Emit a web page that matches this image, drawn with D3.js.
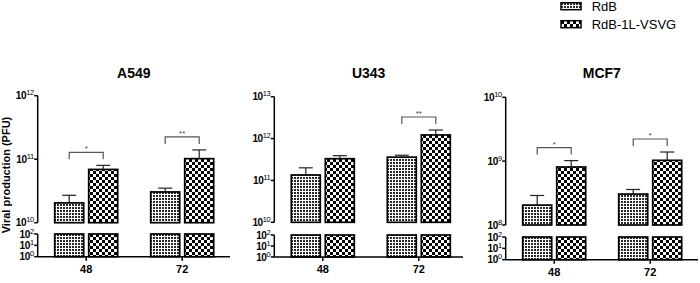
<!DOCTYPE html>
<html>
<head>
<meta charset="utf-8">
<script src="https://cdn.jsdelivr.net/npm/d3@7"></script>
<style>
  body { margin: 0; background: #fff; }
  svg { display: block; font-family: Arial, "Liberation Sans", sans-serif; }
</style>
</head>
<body>
<svg id="chart" width="700" height="283"></svg>
<script>
// data
var panels = ["A549", "U343", "MCF7"];
var categories = ["48", "72"];
var series = ["RdB", "RdB-1L-VSVG"];
var rdbMean  = [[2.05e10, 3.05e10], [1.35e11, 3.6e11], [2.05e8, 3.05e8]];
var rdbErr   = [[0.65e10, 0.45e10], [0.65e11, 0.4e11], [0.85e8, 0.55e8]];
var vsvgMean = [[6.9e10, 1.02e11], [3.3e11, 1.22e12], [8.1e8, 1.03e9]];
var vsvgErr  = [[1.1e10, 0.38e11], [0.6e11, 0.38e12], [0.21e9, 0.36e9]];
var upperExp = [[10, 12], [10, 13], [8, 10]];
var lowerExp = [0, 1, 2];
var signif = [["*", "**"], ["", "**"], ["*", "*"]];

// panel frames
var frames = [
  {left: 37.7, right: 230, top: 95.7, upBottom: 222.7, lowTop: 234, base: 256.7},
  {left: 274.3, right: 463, top: 96.7, upBottom: 222.3, lowTop: 235, base: 257},
  {left: 505.7, right: 698, top: 97.3, upBottom: 225, lowTop: 237, base: 259.7}
];

var svg = d3.select("#chart");
var defs = svg.append("defs");

// fine dotted texture for RdB
var p1 = defs.append("pattern").attr("id", "pRdb")
    .attr("patternUnits", "userSpaceOnUse").attr("width", 3).attr("height", 3);
p1.append("rect").attr("width", 3).attr("height", 3).attr("fill", "#fff");
p1.append("rect").attr("width", 2).attr("height", 2).attr("fill", "#2a2a2a").attr("shape-rendering", "crispEdges");

// coarse checker for RdB-1L-VSVG
var p2 = defs.append("pattern").attr("id", "pVsvg")
    .attr("patternUnits", "userSpaceOnUse").attr("width", 6).attr("height", 6);
p2.append("rect").attr("width", 6).attr("height", 6).attr("fill", "#fff");
p2.append("rect").attr("width", 3).attr("height", 3).attr("fill", "#000").attr("shape-rendering", "crispEdges");
p2.append("rect").attr("x", 3).attr("y", 3).attr("width", 3).attr("height", 3).attr("fill", "#000").attr("shape-rendering", "crispEdges");

var fills = ["url(#pRdb)", "url(#pVsvg)"];

function tickLabel(sel, exp) {
  sel.append("tspan").text("10");
  sel.append("tspan").attr("dy", -4).attr("font-size", 7.5).attr("font-weight", "normal").text(exp);
}

panels.forEach(function(name, pi) {
  var f = frames[pi];
  var g = svg.append("g");

  var y = d3.scaleLog().domain([Math.pow(10, upperExp[pi][0]), Math.pow(10, upperExp[pi][1])])
      .range([f.upBottom, f.top]);
  var yLow = d3.scaleLog().domain([1, 100]).range([f.base, f.lowTop]);

  var x0 = d3.scaleBand().domain(categories)
      .range([f.left + 17, f.left + 17 + 96 + 63]).paddingInner(0.34375).paddingOuter(0);
  var x1 = d3.scaleBand().domain(series).range([0, x0.bandwidth()]).paddingInner(0.147);

  var rows = categories.map(function(c, ci) {
    return [
      {cat: c, s: series[0], v: rdbMean[pi][ci], e: rdbErr[pi][ci], fill: fills[0]},
      {cat: c, s: series[1], v: vsvgMean[pi][ci], e: vsvgErr[pi][ci], fill: fills[1]}
    ];
  });
  var flat = [].concat.apply([], rows);

  // bars, upper segment
  g.selectAll("rect.up").data(flat).enter().append("rect")
      .attr("x", function(d) { return x0(d.cat) + x1(d.s); })
      .attr("y", function(d) { return y(d.v); })
      .attr("width", x1.bandwidth())
      .attr("height", function(d) { return f.upBottom - y(d.v); })
      .attr("fill", function(d) { return d.fill; })
      .attr("stroke", "#000").attr("stroke-width", 1.7);

  // bars, lower segment (values exceed 10^2)
  g.selectAll("rect.low").data(flat).enter().append("rect")
      .attr("x", function(d) { return x0(d.cat) + x1(d.s); })
      .attr("y", yLow(100))
      .attr("width", x1.bandwidth())
      .attr("height", yLow(1) - yLow(100))
      .attr("fill", function(d) { return d.fill; })
      .attr("stroke", "#000").attr("stroke-width", 1.7);

  // error bars
  var eb = g.selectAll("g.err").data(flat).enter().append("g")
      .attr("stroke", "#222").attr("stroke-width", 1.2);
  eb.append("line")
      .attr("x1", function(d) { return x0(d.cat) + x1(d.s) + x1.bandwidth() / 2; })
      .attr("x2", function(d) { return x0(d.cat) + x1(d.s) + x1.bandwidth() / 2; })
      .attr("y1", function(d) { return y(d.v); })
      .attr("y2", function(d) { return y(d.v + d.e); });
  eb.append("line")
      .attr("x1", function(d) { return x0(d.cat) + x1(d.s) + x1.bandwidth() / 2 - 7; })
      .attr("x2", function(d) { return x0(d.cat) + x1(d.s) + x1.bandwidth() / 2 + 7; })
      .attr("y1", function(d) { return y(d.v + d.e); })
      .attr("y2", function(d) { return y(d.v + d.e); });

  // significance brackets
  rows.forEach(function(pair, ci) {
    var mark = signif[pi][ci];
    if (!mark) return;
    var xa = x0(pair[0].cat) + x1(series[0]) + x1.bandwidth() / 2;
    var xb = x0(pair[1].cat) + x1(series[1]) + x1.bandwidth() / 2;
    var topErr = Math.min(y(pair[0].v + pair[0].e), y(pair[1].v + pair[1].e));
    var legBottom = topErr - 6, yb = legBottom - 7;
    g.append("path")
        .attr("d", "M" + xa + "," + legBottom + "V" + yb + "H" + xb + "V" + legBottom)
        .attr("fill", "none").attr("stroke", "#555").attr("stroke-width", 1.2);
    g.append("text").attr("x", (xa + xb) / 2).attr("y", yb - 1)
        .attr("text-anchor", "middle").attr("font-size", 8).attr("fill", "#444")
        .text(mark);
  });

  // y axes
  var ax = g.append("g").attr("stroke", "#000").attr("stroke-width", 1.5);
  ax.append("line").attr("x1", f.left).attr("x2", f.left).attr("y1", y.range()[0]).attr("y2", y.range()[1]);
  ax.append("line").attr("x1", f.left).attr("x2", f.left).attr("y1", yLow(1)).attr("y2", yLow(100));
  // x axis
  ax.append("line").attr("x1", f.left).attr("x2", f.right).attr("y1", f.base).attr("y2", f.base);

  var upTicks = d3.range(upperExp[pi][0], upperExp[pi][1] + 1);
  upTicks.forEach(function(e) {
    var yy = y(Math.pow(10, e));
    ax.append("line").attr("x1", f.left - 3.5).attr("x2", f.left).attr("y1", yy).attr("y2", yy);
    g.append("text").attr("x", f.left - 4).attr("y", yy + 3.5)
        .attr("text-anchor", "end").attr("font-size", 10).attr("font-weight", "bold")
        .attr("letter-spacing", -0.4)
        .call(tickLabel, e);
  });
  lowerExp.forEach(function(e) {
    var yy = yLow(Math.pow(10, e));
    ax.append("line").attr("x1", f.left - 3.5).attr("x2", f.left).attr("y1", yy).attr("y2", yy);
    g.append("text").attr("x", f.left - 4).attr("y", yy + 3.5)
        .attr("text-anchor", "end").attr("font-size", 10).attr("font-weight", "bold")
        .attr("letter-spacing", -0.4)
        .call(tickLabel, e);
  });

  // x ticks
  categories.forEach(function(c) {
    var xx = x0(c) + x0.bandwidth() / 2;
    ax.append("line").attr("x1", xx).attr("x2", xx).attr("y1", f.base).attr("y2", f.base + 4);
    g.append("text").attr("x", xx).attr("y", f.base + 16)
        .attr("text-anchor", "middle").attr("font-size", 11).attr("font-weight", "bold")
        .text(c);
  });

  // title
  g.append("text").attr("x", (f.left + f.right) / 2).attr("y", 77.7)
      .attr("text-anchor", "middle").attr("font-size", 14).attr("font-weight", "bold")
      .text(name);
});

// y label
svg.append("text").attr("transform", "translate(10,175) rotate(-90)")
    .attr("text-anchor", "middle").attr("font-size", 11).attr("font-weight", "bold")
    .text("Viral production (PFU)");

// legend
var leg = svg.append("g");
series.forEach(function(s, i) {
  var yy = [2.7, 20.7][i];
  leg.append("rect").attr("x", 561).attr("y", yy).attr("width", 20).attr("height", 7)
      .attr("fill", fills[i]).attr("stroke", "#000").attr("stroke-width", 1.5);
  leg.append("text").attr("x", 591.7).attr("y", yy + 8.5).attr("font-size", 13)
      .text(s);
});
</script>
</body>
</html>
